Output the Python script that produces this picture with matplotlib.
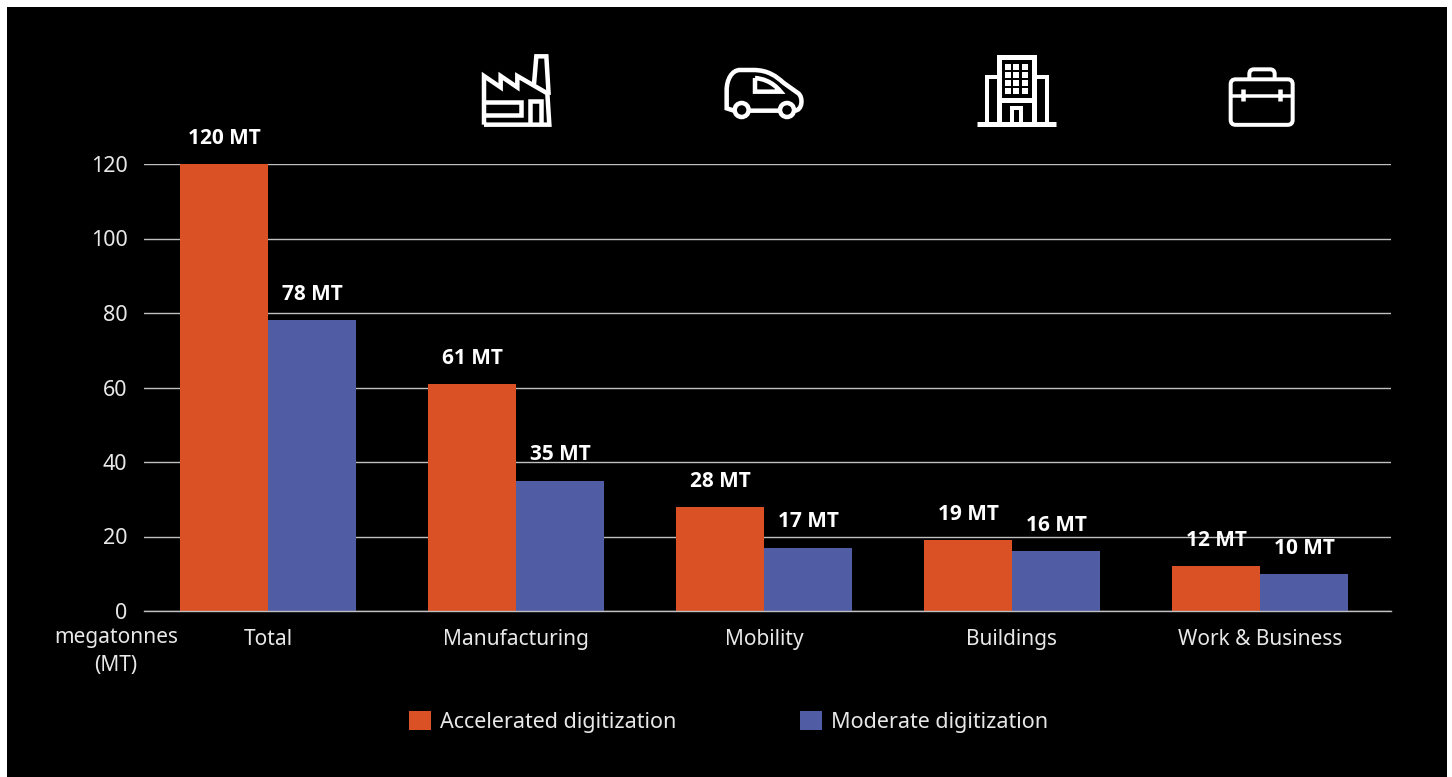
import numpy as np
import matplotlib
matplotlib.use("Agg")
import matplotlib.pyplot as plt
from matplotlib.path import Path
from matplotlib.patches import PathPatch, Rectangle, Circle, FancyBboxPatch

W, H = 1452, 777

categories = ["Total", "Manufacturing", "Mobility", "Buildings", "Work & Business"]
accelerated = [120, 61, 28, 19, 12]
moderate = [78, 35, 17, 16, 10]
series_names = ["Accelerated digitization", "Moderate digitization"]
y_ticks = [0, 20, 40, 60, 80, 100, 120]

ORANGE = "#d95125"
BLUE = "#505ca4"
LIGHT = "#e8e8e8"
GRID = "#c0c0c0"

plt.rcParams["font.family"] = ["Noto Sans", "DejaVu Sans"]
BOLD_FONT = ["Open Sans", "DejaVu Sans"]


def px_stroke(ax, verts, codes=None, lw=4.0):
    # stroke width is given in pixels, at dpi 100
    ax.add_patch(PathPatch(Path(verts, codes), fill=False, ec="white", lw=lw * 0.72,
                           joinstyle="miter", capstyle="butt"))


def zoomed(points, x0, y0):
    return [(x0 + px / 3, y0 + py / 3) for px, py in points]


def draw_factory(ax):
    x0, y0 = 460, 40
    outline = [(72, 254), (72, 108), (122, 142), (122, 108), (172, 142), (172, 108),
               (262, 160), (268, 254), (72, 254)]
    px_stroke(ax, zoomed(outline, x0, y0), lw=4.5)
    px_stroke(ax, zoomed([(222, 132), (229, 49), (259, 49), (266, 165)], x0, y0), lw=4.5)
    px_stroke(ax, zoomed([(72, 185), (182, 185), (182, 226), (72, 226)], x0, y0), lw=4.5)
    px_stroke(ax, zoomed([(211, 254), (211, 184), (243, 184), (243, 254)], x0, y0), lw=4.5)


def draw_car(ax):
    x0, y0 = 460, 40
    M, L, C = Path.MOVETO, Path.LINETO, Path.CURVE4
    body = [(822, 212), (800, 205), (800, 150), (800, 120), (815, 90), (840, 90),
            (880, 90), (925, 90), (950, 110), (970, 128), (1015, 160), (1030, 172),
            (1028, 212), (1003, 212), (958, 212), (868, 212)]
    codes = [M, L, L, C, C, C, L, C, C, C, L, C, C, L, M, L]
    px_stroke(ax, zoomed(body, x0, y0), codes, lw=4.5)
    glass = [(885, 114), (885, 155), (962, 155), (935, 122), (905, 116), (885, 114)]
    px_stroke(ax, zoomed(glass, x0, y0), [M, L, L, C, C, C], lw=4.5)
    for cx in (845, 981):
        x, y = zoomed([(cx, 210)], x0, y0)[0]
        ax.add_patch(Circle((x, y), 7, fill=False, ec="white", lw=4.5 * 0.72))


def draw_building(ax):
    x0, y0 = 960, 40
    px_stroke(ax, zoomed([(50, 252), (289, 252)], x0, y0), lw=5)
    px_stroke(ax, zoomed([(117, 250), (117, 51), (222, 51), (222, 250)], x0, y0), lw=5)
    px_stroke(ax, zoomed([(117, 179), (222, 179)], x0, y0), lw=5)
    px_stroke(ax, zoomed([(115, 111), (80, 111), (80, 250)], x0, y0))
    px_stroke(ax, zoomed([(225, 111), (260, 111), (260, 250)], x0, y0))
    px_stroke(ax, zoomed([(155, 250), (155, 205), (183, 205), (183, 250)], x0, y0))
    for wx in (135, 160, 186):
        for wy in (71, 96, 120, 144):
            x, y = zoomed([(wx, wy)], x0, y0)[0]
            ax.add_patch(Rectangle((x, y), 6, 6, fc="white", ec="none"))


def draw_case(ax):
    x0, y0 = 960, 40
    M, L, C = Path.MOVETO, Path.LINETO, Path.CURVE3
    x, y = zoomed([(812, 118)], x0, y0)[0]
    ax.add_patch(FancyBboxPatch((x + 5, y + 5), 52, 35.5, boxstyle="round,pad=5,rounding_size=5",
                                fill=False, ec="white", lw=4 * 0.72))
    handle = [(868, 116), (868, 102), (868, 88), (882, 88), (930, 88),
              (944, 88), (944, 102), (944, 116)]
    px_stroke(ax, zoomed(handle, x0, y0), [M, L, C, C, L, C, C, L])
    px_stroke(ax, zoomed([(812, 167), (998, 167)], x0, y0), lw=3.5)
    for tx in (849, 961):
        px_stroke(ax, zoomed([(tx, 148), (tx, 184)], x0, y0), lw=4.5)


fig = plt.figure(figsize=(W / 100, H / 100), dpi=100, facecolor="white")

# black panel and everything placed in pixels
over = fig.add_axes([0, 0, 1, 1], zorder=0)
over.set_xlim(0, W)
over.set_ylim(H, 0)
over.axis("off")
over.add_patch(Rectangle((7, 7), 1440, 770, fc="black", ec="none"))

ax = fig.add_axes([144 / W, 1 - 611 / H, (1391 - 144) / W, 447 / H], zorder=1)
ax.patch.set_alpha(0)
x = np.arange(len(categories))
bar_w = 88 / 248
ax.bar(x - bar_w / 2, accelerated, bar_w, color=ORANGE, zorder=3, label=series_names[0])
ax.bar(x + bar_w / 2, moderate, bar_w, color=BLUE, zorder=3, label=series_names[1])
ax.set_xlim(-0.5, 4.5 + 7 / 248)
ax.set_ylim(0, 120)

for i in x:
    ax.annotate(f"{accelerated[i]} MT", (i - bar_w / 2, accelerated[i]), xytext=(0, 18.5),
                textcoords="offset points", ha="center", va="center", color="white",
                fontsize=15, fontweight="bold", family=BOLD_FONT, zorder=4,
                annotation_clip=False)
    ax.annotate(f"{moderate[i]} MT", (i + bar_w / 2, moderate[i]), xytext=(0, 18.5),
                textcoords="offset points", ha="center", va="center", color="white",
                fontsize=15, fontweight="bold", family=BOLD_FONT, zorder=4,
                annotation_clip=False)

ax.set_yticks(y_ticks)
ax.set_xticks(x)
ax.set_xticklabels(categories)
ax.tick_params(axis="y", length=0, pad=12, labelsize=15.5, labelcolor=LIGHT)
ax.tick_params(axis="x", length=0, pad=13, labelsize=15, labelcolor=LIGHT)
ax.grid(axis="y", color=GRID, lw=1, zorder=1)
ax.set_axisbelow(True)
for name, s in ax.spines.items():
    s.set_visible(name == "bottom")
ax.spines["bottom"].set_color(GRID)
ax.spines["bottom"].set_linewidth(1)
ax.spines["bottom"].set_zorder(5)

over.text(116, 637, "megatonnes", ha="center", va="center", color=LIGHT, fontsize=15)
over.text(116, 666, "(MT)", ha="center", va="center", color=LIGHT, fontsize=15)

handles, labels = ax.get_legend_handles_labels()
leg = fig.legend(handles, labels, loc="center left", ncols=2, frameon=False, fontsize=15.5,
                 bbox_to_anchor=(394 / W, 1 - 722 / H), handlelength=1, handleheight=1,
                 handletextpad=0.42, columnspacing=5.78, labelcolor=LIGHT, borderpad=0.2)

draw_factory(over)
draw_car(over)
draw_building(over)
draw_case(over)

fig.savefig("out.png", dpi=100, facecolor="white")
